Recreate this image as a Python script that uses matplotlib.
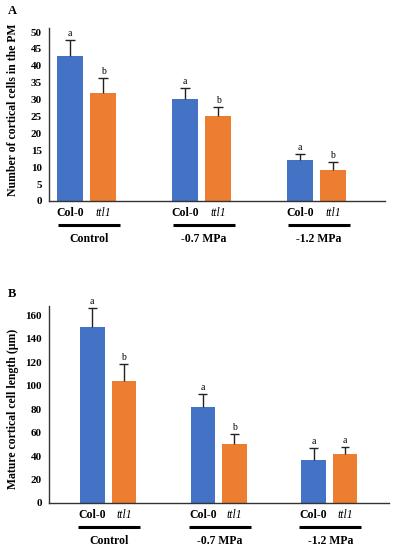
import matplotlib
matplotlib.use("Agg")
import matplotlib.pyplot as plt
import numpy as np

plt.rcParams['font.family'] = ['Liberation Serif', 'DejaVu Serif']

groups = ['Control', '-0.7 MPa', '-1.2 MPa']
genotypes = ['Col-0', 'ttl1']
colors = ['#4472C4', '#ED7D31']

# panel A: number of cortical cells in the PM
cells_col = [42.8, 30.2, 12.1]
cells_ttl = [32.0, 25.1, 9.2]
cells_col_err = [4.8, 3.2, 1.8]
cells_ttl_err = [4.4, 2.7, 2.3]
cells_col_let = ['a', 'a', 'a']
cells_ttl_let = ['b', 'b', 'b']

# panel B: mature cortical cell length (um)
len_col = [150, 82, 37]
len_ttl = [104, 50, 42]
len_col_err = [16, 11, 10]
len_ttl_err = [14, 9, 6]
len_col_let = ['a', 'a', 'a']
len_ttl_let = ['b', 'b', 'a']

W, H = 393, 550
fig = plt.figure(figsize=(W / 100, H / 100), dpi=100)


def px_axes(l, t, r, b):
    return fig.add_axes([l / W, 1 - b / H, (r - l) / W, (b - t) / H])


def panel(ax, col, ttl, col_err, ttl_err, col_let, ttl_let,
          width, off, xlim, ylim, yticks, ul, ylab, tag, tag_y, ylab_y,
          hpx):
    x = np.arange(len(groups))
    cap = width * 0.18
    for vals, errs, lets, sgn, c in [(col, col_err, col_let, -1, colors[0]),
                                     (ttl, ttl_err, ttl_let, 1, colors[1])]:
        xs = x + sgn * off
        vals = np.asarray(vals)
        errs = np.asarray(errs)
        ax.bar(xs, vals, width, color=c)
        # upper-only error bars (T shape)
        ax.vlines(xs, vals, vals + errs, color='#222222', lw=1.0)
        ax.hlines(vals + errs, xs - cap, xs + cap, color='#222222', lw=1.0)
        for xi, v, e, l in zip(xs, vals, errs, lets):
            ax.annotate(l, (xi, v + e), xytext=(0, 1.5), textcoords='offset points',
                        ha='center', va='bottom', fontsize=7)
    ax.set_xlim(*xlim)
    ax.set_ylim(*ylim)
    ax.set_yticks(yticks)
    ax.tick_params(axis='y', length=0, pad=5, labelsize=8)
    for t in ax.get_yticklabels():
        t.set_fontweight('bold')
    ticks = np.concatenate([x - off, x + off])
    labels = ['Col-0'] * len(x) + ['ttl1'] * len(x)
    ax.set_xticks(ticks)
    ax.set_xticklabels(labels, fontsize=8.5)
    ax.tick_params(axis='x', length=0, pad=4)
    for t in ax.get_xticklabels():
        t.set_fontweight('bold')
        if t.get_text() == 'ttl1':
            t.set_fontstyle('italic')
            t.set_fontweight('normal')
    ax.spines['top'].set_visible(False)
    ax.spines['right'].set_visible(False)
    for s in ['left', 'bottom']:
        ax.spines[s].set_color('#333333')
        ax.spines[s].set_linewidth(1.0)
    tr = ax.get_xaxis_transform()
    y_line = -24 / hpx
    y_grp = -38 / hpx
    for xi, g in zip(x, groups):
        ax.plot([xi + ul[0], xi + ul[1]], [y_line, y_line], color='black',
                lw=2.2, transform=tr, clip_on=False, solid_capstyle='butt')
        ax.text(xi + (ul[0] + ul[1]) / 2, y_grp, g, transform=tr, ha='center',
                va='center', fontsize=8.5, fontweight='bold')
    fig.text(13 / W, 1 - ylab_y / H, ylab, rotation=90, ha='center', va='center',
             fontsize=8.5, fontweight='bold')
    fig.text(12 / W, 1 - tag_y / H, tag, ha='center', va='center',
             fontsize=9, fontweight='bold')


axA = px_axes(49, 28, 385, 201)
panel(axA, cells_col, cells_ttl, cells_col_err, cells_ttl_err,
      cells_col_let, cells_ttl_let,
      width=0.226, off=0.1435, xlim=(-0.326, 2.596), ylim=(0, 51.2),
      yticks=np.arange(0, 51, 5), ul=(-0.25, 0.29),
      ylab='Number of cortical cells in the PM', tag='A', tag_y=11,
      ylab_y=110, hpx=173)

axB = px_axes(49, 306, 389, 503)
panel(axB, len_col, len_ttl, len_col_err, len_ttl_err,
      len_col_let, len_ttl_let,
      width=0.222, off=0.1425, xlim=(-0.534, 2.54), ylim=(0, 167.7),
      yticks=np.arange(0, 161, 20), ul=(-0.27, 0.29),
      ylab='Mature cortical cell length (\u03bcm)', tag='B', tag_y=294,
      ylab_y=409, hpx=197)

fig.savefig('out.png', dpi=100)
